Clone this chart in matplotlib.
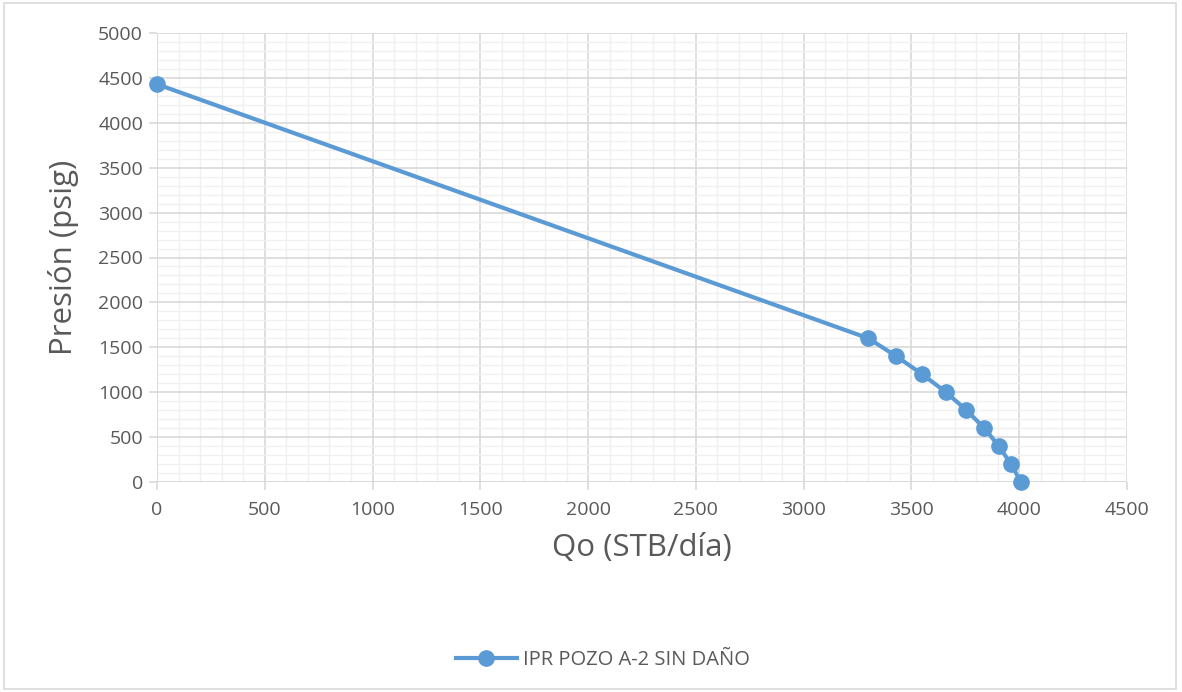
import matplotlib

matplotlib.use("Agg")
import matplotlib.pyplot as plt
from matplotlib.patches import Rectangle
from matplotlib.ticker import MultipleLocator

# IPR curve, pozo A-2 sin daño
qo = [0, 3300, 3430, 3550, 3660, 3755, 3838, 3905, 3962, 4008]
pwf = [4430, 1600, 1400, 1200, 1000, 800, 600, 400, 200, 0]
serie = "IPR POZO A-2 SIN DAÑO"

plt.rcParams["font.family"] = ["Open Sans", "DejaVu Sans"]
txt = "#595959"
blue = "#5b9bd5"

fig = plt.figure(figsize=(11.82, 6.92), dpi=100)
W, H = 1182, 692
ax = fig.add_axes([157 / W, (H - 482) / H, (1127 - 157) / W, (482 - 33) / H])

ax.plot(qo, pwf, "-o", color=blue, lw=3, ms=11, label=serie, zorder=3, clip_on=False)

ax.set_xlim(0, 4500)
ax.set_ylim(0, 5000)
ax.xaxis.set_major_locator(MultipleLocator(500))
ax.yaxis.set_major_locator(MultipleLocator(500))
ax.xaxis.set_minor_locator(MultipleLocator(100))
ax.yaxis.set_minor_locator(MultipleLocator(100))
ax.grid(which="major", color="#d9d9d9", lw=1.2)
ax.grid(which="minor", color="#f0f0f0", lw=1.0)
ax.set_axisbelow(True)
for s in ax.spines.values():
    s.set_visible(False)
ax.axhline(0, color="#d9d9d9", lw=1.2, zorder=1)
ax.axvline(0, color="#d9d9d9", lw=1.2, zorder=1)
ax.tick_params(which="minor", length=0)
ax.tick_params(which="major", length=6, width=1.2, color="#d9d9d9",
               labelsize=14, labelcolor=txt)
ax.tick_params(axis="x", pad=8)
ax.tick_params(axis="y", pad=4)

ax.set_xlabel("Qo (STB/día)", fontsize=22.5, color=txt, labelpad=10)
ax.set_ylabel("Presión (psig)", fontsize=22.5, color=txt, labelpad=14)

fig.legend(loc="center", bbox_to_anchor=(0.51, (H - 660) / H), frameon=False,
           fontsize=14.5, labelcolor=txt, handlelength=3.0, markerscale=1.0,
           handletextpad=0.3)

fig.patches.append(Rectangle((4 / W, 3 / H), (W - 10) / W, (H - 6) / H, transform=fig.transFigure,
                             fill=False, edgecolor="#d9d9d9", lw=1.2))

fig.savefig("out.png", dpi=100)
